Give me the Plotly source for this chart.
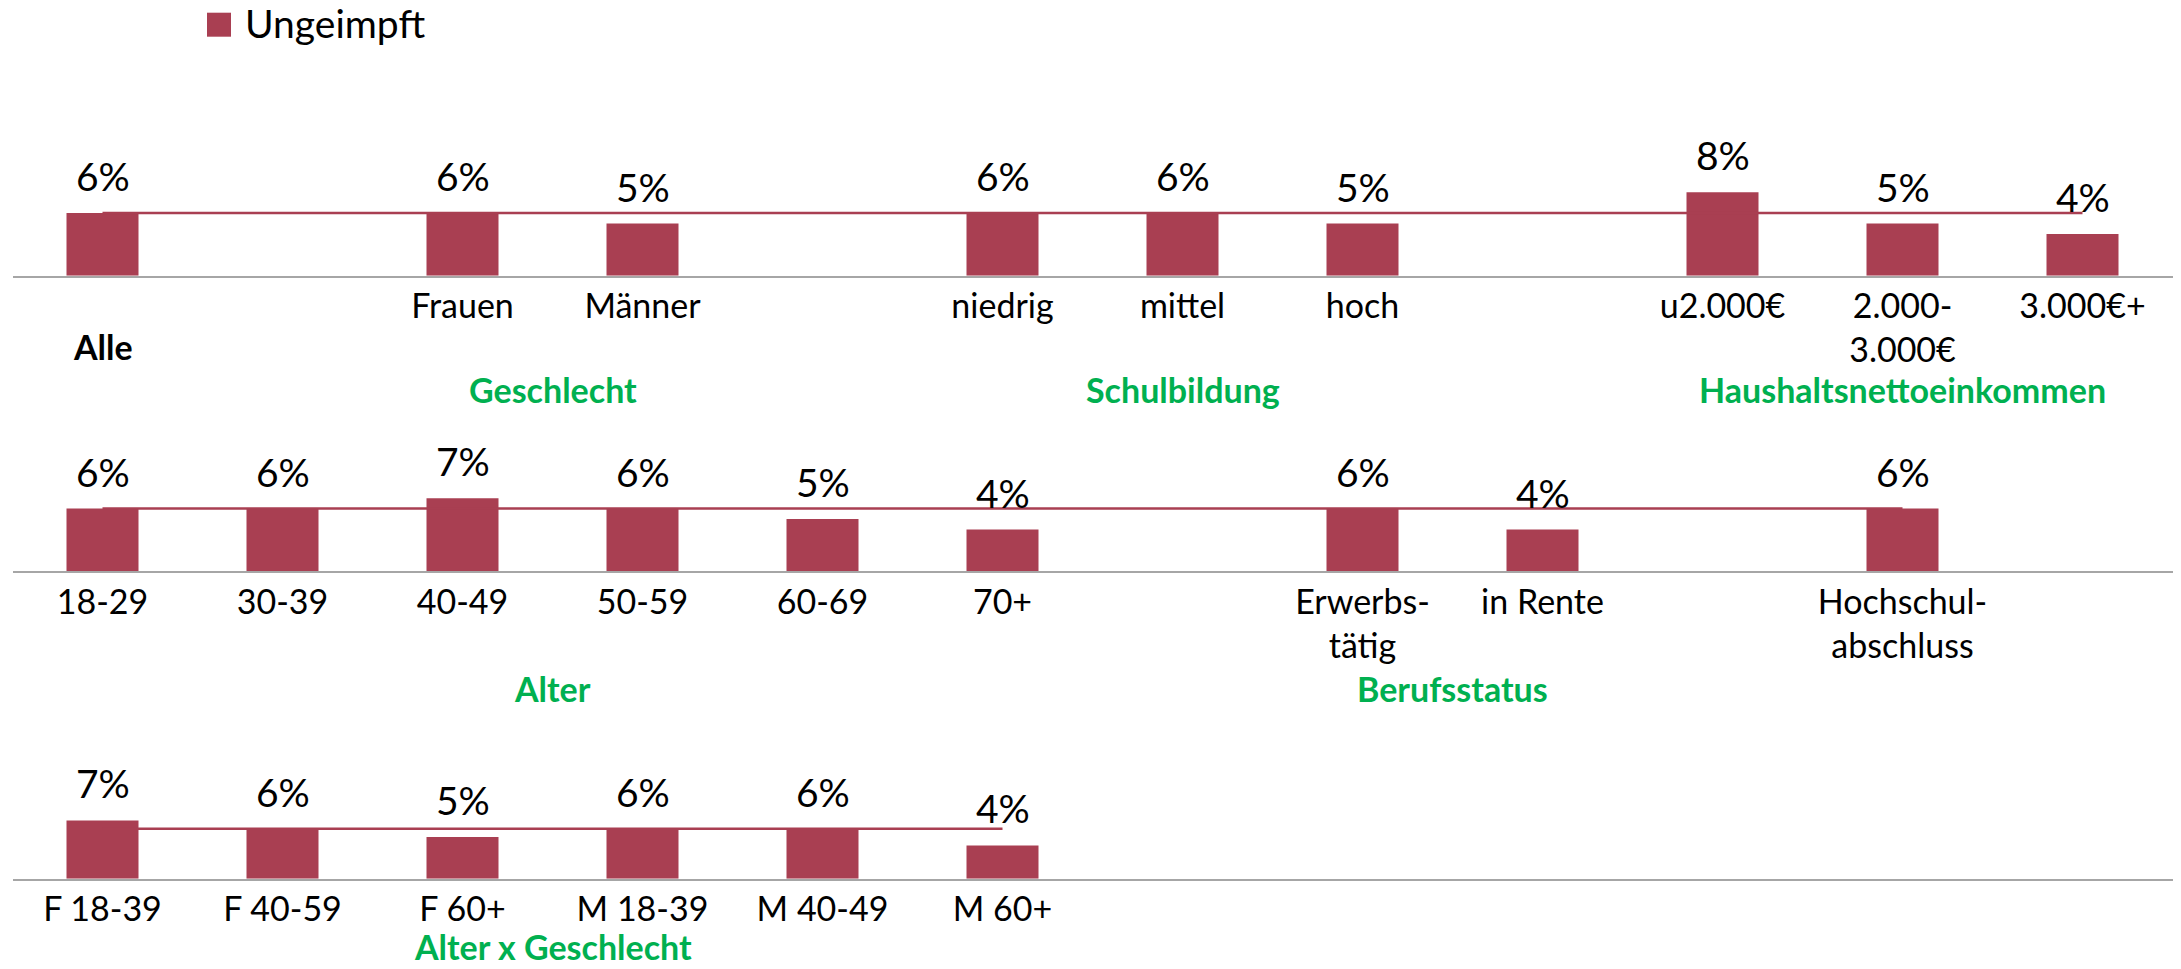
import plotly.graph_objects as go

# ---------------- data ----------------
ALLE_VALUE = 6  # reference value ("Alle"), drawn as horizontal line

row1_axis = ["Alle", "_g1", "Frauen", "Männer", "_g2", "niedrig", "mittel", "hoch",
             "_g3", "u2.000€", "2.000-3.000€", "3.000€+"]
row1_cats = ["Alle", "Frauen", "Männer", "niedrig", "mittel", "hoch",
             "u2.000€", "2.000-3.000€", "3.000€+"]
row1_vals = [6, 6, 5, 6, 6, 5, 8, 5, 4]
row1_groups = [("Geschlecht", ["Frauen", "Männer"]),
               ("Schulbildung", ["niedrig", "mittel", "hoch"]),
               ("Haushaltsnettoeinkommen", ["u2.000€", "2.000-3.000€", "3.000€+"])]

row2_axis = ["18-29", "30-39", "40-49", "50-59", "60-69", "70+", "_g1",
             "Erwerbstätig", "in Rente", "_g2", "Hochschulabschluss", "_g3"]
row2_cats = ["18-29", "30-39", "40-49", "50-59", "60-69", "70+",
             "Erwerbstätig", "in Rente", "Hochschulabschluss"]
row2_vals = [6, 6, 7, 6, 5, 4, 6, 4, 6]
row2_groups = [("Alter", ["18-29", "30-39", "40-49", "50-59", "60-69", "70+"]),
               ("Berufsstatus", ["Erwerbstätig", "in Rente"])]

row3_axis = ["F 18-39", "F 40-59", "F 60+", "M 18-39", "M 40-49", "M 60+",
             "_g1", "_g2", "_g3", "_g4", "_g5", "_g6"]
row3_cats = ["F 18-39", "F 40-59", "F 60+", "M 18-39", "M 40-49", "M 60+"]
row3_vals = [7, 6, 5, 6, 6, 4]
row3_groups = [("Alter x Geschlecht", ["F 18-39", "F 40-59", "F 60+",
                                        "M 18-39", "M 40-49", "M 60+"])]

tick_text_override = {"Alle": "", "2.000-3.000€": "2.000-<br>3.000€",
                      "Erwerbstätig": "Erwerbs-<br>tätig",
                      "Hochschulabschluss": "Hochschul-<br>abschluss"}

SERIES_NAME = "Ungeimpft"

# ---------------- style ----------------
W, H = 2181, 969
BAR = "#A93F52"
GREEN = "#00B050"
AXIS = "#A6A6A6"
FONT = "Lato, 'Open Sans', sans-serif"


def py(p):
    return 1 - p / H


def px(p):
    return p / W


x_dom = [px(12.5), px(2172.5)]
# (baseline pixel, top pixel) per row for range [0, 10]
rows = [
    dict(axis=row1_axis, cats=row1_cats, vals=row1_vals, groups=row1_groups,
         base=275.7, top=171.4, group_y=389, anchor="middle", n=""),
    dict(axis=row2_axis, cats=row2_cats, vals=row2_vals, groups=row2_groups,
         base=571.3, top=466.8, group_y=688, anchor="middle", n="2"),
    dict(axis=row3_axis, cats=row3_cats, vals=row3_vals, groups=row3_groups,
         base=878.7, top=795.4, group_y=969, anchor="bottom", n="3"),
]

fig = go.Figure()
annotations = []
layout = {}

for r in rows:
    xa, ya = "x" + r["n"], "y" + r["n"]
    # reference line (Alle value) across the row
    fig.add_trace(go.Scatter(x=r["cats"], y=[ALLE_VALUE] * len(r["cats"]),
                             mode="lines", line=dict(color=BAR, width=2.5),
                             xaxis=xa, yaxis=ya, showlegend=False, hoverinfo="skip"))
    fig.add_trace(go.Bar(x=r["cats"], y=r["vals"], name=SERIES_NAME,
                         marker=dict(color=BAR, line=dict(width=0)),
                         xaxis=xa, yaxis=ya, showlegend=False))
    for c, v in zip(r["cats"], r["vals"]):
        annotations.append(dict(x=c, y=v, xref=xa, yref=ya, text=f"{v}%",
                                showarrow=False, yanchor="bottom", yshift=12,
                                font=dict(family=FONT, size=39, color="#000")))
    for gname, members in r["groups"]:
        idx = [r["axis"].index(m) for m in members]
        annotations.append(dict(x=sum(idx) / len(idx), y=py(r["group_y"]),
                                xref=xa, yref="paper", text=f"<b>{gname}</b>",
                                showarrow=False, yanchor=r["anchor"],
                                font=dict(family=FONT, size=34, color=GREEN)))
    ticktext = ["" if a.startswith("_g") else tick_text_override.get(a, a)
                for a in r["axis"]]
    layout["xaxis" + r["n"]] = dict(
        domain=x_dom, type="category", categoryorder="array",
        categoryarray=r["axis"], tickvals=r["axis"], ticktext=ticktext,
        range=[-0.5, len(r["axis"]) - 0.5], showline=True, linecolor=AXIS,
        linewidth=1.5, ticks="", showgrid=False, zeroline=False,
        anchor=ya, tickfont=dict(family=FONT, size=34, color="#000"),
        fixedrange=True)
    layout["yaxis" + r["n"]] = dict(
        domain=[py(r["base"]), py(r["top"])], range=[0, 10], visible=False,
        anchor=xa, fixedrange=True)

# "Alle" label
annotations.append(dict(x="Alle", y=py(346), xref="x", yref="paper",
                        text="<b>Alle</b>", showarrow=False, yanchor="middle",
                        font=dict(family=FONT, size=34, color="#000")))
# legend
annotations.append(dict(x=px(243), y=py(22.5), xref="paper", yref="paper",
                        text=SERIES_NAME, showarrow=False, xanchor="left",
                        yanchor="middle",
                        font=dict(family=FONT, size=39, color="#000")))
shapes = [dict(type="rect", xref="paper", yref="paper", x0=px(207), x1=px(231),
               y0=py(36.7), y1=py(12.7), fillcolor=BAR, line=dict(width=0))]

fig.update_layout(width=W, height=H, margin=dict(l=0, r=0, t=0, b=0),
                  paper_bgcolor="white", plot_bgcolor="white",
                  bargap=0.6, showlegend=False, annotations=annotations,
                  shapes=shapes, font=dict(family=FONT), **layout)

fig.write_html("out.html", config={"displayModeBar": False},
               post_script="document.body.style.margin='0';")
